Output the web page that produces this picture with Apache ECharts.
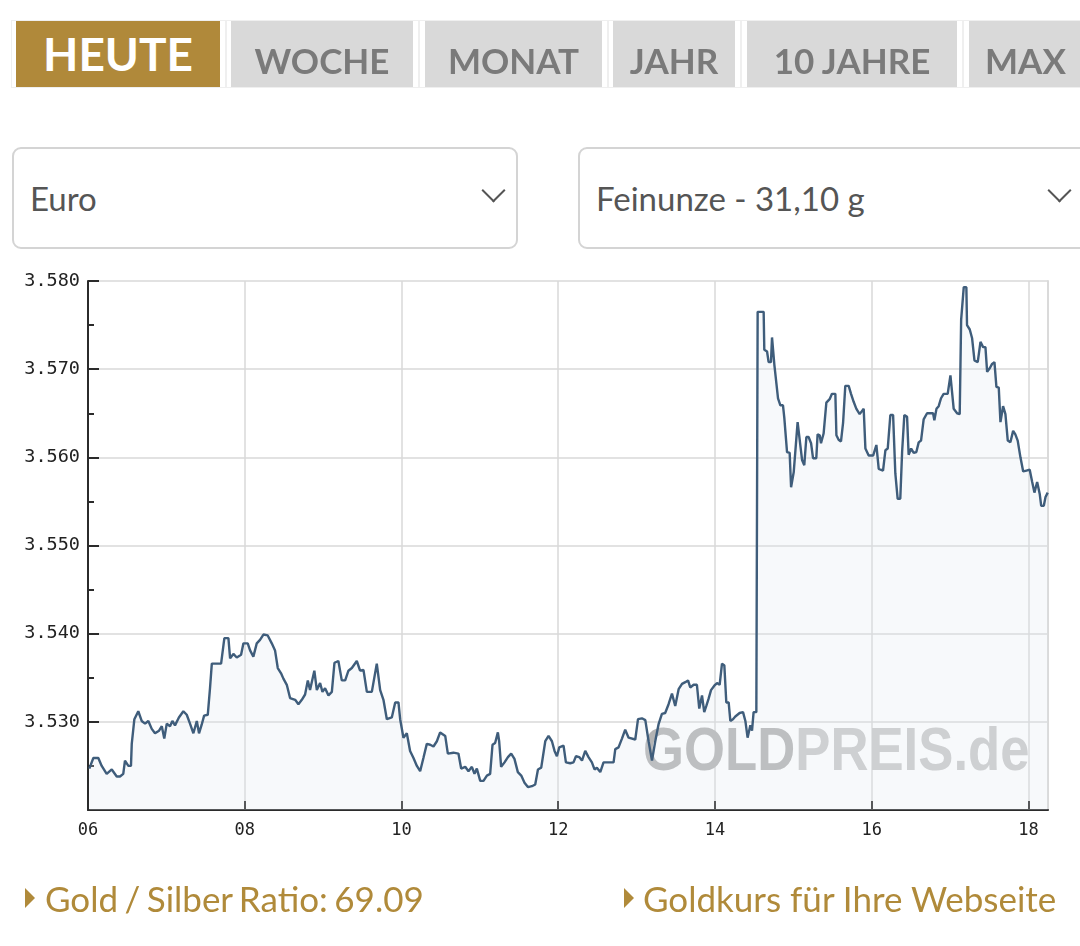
<!DOCTYPE html>
<html>
<head>
<meta charset="utf-8">
<script src="https://cdn.jsdelivr.net/npm/echarts@6/dist/echarts.min.js"></script>
<style>
html,body{margin:0;padding:0;background:#fff;width:1080px;height:946px;overflow:hidden;font-family:Lato,'Noto Sans',sans-serif;}
#chart{position:absolute;left:0;top:0;width:1080px;height:946px;}
.frame{position:absolute;top:20px;height:68px;border:1px solid #efefef;box-sizing:border-box;}
.tab{position:absolute;top:21px;height:66px;background:#d9d9d9;color:#7a7a7a;font-weight:700;font-size:35px;text-align:center;box-sizing:border-box;padding-top:12px;line-height:54px;white-space:nowrap;overflow:hidden;}
.tab.active{background:#b0893a;color:#fff;font-size:46px;padding-top:0;line-height:66px;}
.select{position:absolute;top:147px;height:102px;border:2px solid #d4d4d4;border-radius:9px;box-sizing:border-box;background:#fff;font-size:33px;color:#555;line-height:98px;padding-left:16px;white-space:nowrap;}
.chev{position:absolute;width:17px;height:17px;border-right:2px solid #555;border-bottom:2px solid #555;transform:rotate(45deg);box-sizing:border-box;}
.link{position:absolute;top:877px;font-size:35px;line-height:42px;color:#b08a3a;white-space:nowrap;}
.tri{position:absolute;top:888px;width:0;height:0;border-left:10px solid #b08a3a;border-top:10px solid transparent;border-bottom:10px solid transparent;}
</style>
</head>
<body>
<div id="chart"></div>

<div class="frame" style="left:11px;width:215px;"></div>
<div class="tab active" style="left:16px;width:204px;">HEUTE</div>
<div class="frame" style="left:226px;width:193px;"></div>
<div class="tab" style="left:231px;width:182px;">WOCHE</div>
<div class="frame" style="left:419px;width:189px;"></div>
<div class="tab" style="left:425px;width:177px;">MONAT</div>
<div class="frame" style="left:608px;width:133px;"></div>
<div class="tab" style="left:613px;width:122px;">JAHR</div>
<div class="frame" style="left:741px;width:222px;"></div>
<div class="tab" style="left:747px;width:210px;">10 JAHRE</div>
<div class="frame" style="left:963px;width:130px;"></div>
<div class="tab" style="left:969px;width:115px;text-align:left;padding-left:16px;">MAX</div>

<div class="select" style="left:12px;width:506px;">Euro</div>
<div class="chev" style="left:485px;top:182px;"></div>
<div class="select" style="left:578px;width:530px;">Feinunze - 31,10 g</div>
<div class="chev" style="left:1051px;top:182px;"></div>

<div class="tri" style="left:25px;"></div>
<div class="link" style="left:45px;word-spacing:-2.5px;">Gold / Silber Ratio: 69.09</div>
<div class="tri" style="left:624px;"></div>
<div class="link" style="left:643px;">Goldkurs für Ihre Webseite</div>

<script>
// Minutes after 06:00 for each price sample (today's intraday gold price, EUR per troy ounce, in thousands)
const minutes = [
  1.0, 4.1, 7.9, 10.5, 14.3, 18.2, 22.0, 24.5, 27.0, 28.3,
  30.9, 32.9, 33.5, 35.5, 38.5, 41.1, 43.7, 46.2, 48.8, 51.3,
  54.4, 56.5, 58.4, 60.3, 62.8, 64.6, 66.6, 69.6, 73.0, 75.6,
  78.1, 80.7, 83.3, 85.0, 87.1, 88.9, 91.7, 93.4, 94.8, 101.9,
  104.4, 107.5, 108.8, 111.3, 113.9, 117.2, 119.0, 122.3, 124.1, 126.6,
  129.2, 131.7, 134.3, 137.6, 140.7, 143.2, 145.3, 147.8, 149.6, 152.2,
  154.7, 158.6, 161.1, 163.7, 166.2, 168.3, 170.0, 173.3, 175.2, 177.7,
  179.5, 181.5, 184.1, 186.7, 188.7, 191.7, 194.3, 196.9, 199.4, 202.0,
  205.8, 208.3, 210.9, 213.5, 217.3, 221.1, 223.7, 226.2, 228.8, 232.6,
  235.2, 237.7, 239.0, 241.5, 244.1, 246.6, 249.2, 251.8, 254.3, 256.8,
  259.4, 262.0, 264.5, 267.1, 269.6, 273.5, 275.5, 279.8, 283.6, 285.7,
  288.8, 291.3, 293.9, 295.9, 297.7, 300.3, 302.8, 305.4, 307.9, 309.7,
  311.7, 313.8, 314.8, 316.3, 318.9, 321.5, 324.0, 326.5, 329.1, 331.7,
  334.2, 336.8, 339.9, 342.4, 344.5, 347.0, 350.1, 352.6, 355.2, 357.2,
  359.0, 360.8, 364.1, 365.9, 369.2, 371.7, 373.6, 376.1, 378.2, 380.7,
  383.2, 385.8, 387.8, 389.6, 392.2, 394.7, 402.4, 403.7, 406.2, 408.8,
  411.3, 413.9, 419.0, 421.1, 424.1, 426.7, 429.2, 431.8, 434.3, 436.8,
  439.4, 441.9, 444.5, 447.1, 449.6, 452.2, 454.8, 457.3, 459.4, 461.1,
  463.7, 466.2, 468.0, 470.1, 471.8, 473.4, 475.1, 477.0, 479.5, 481.6,
  483.6, 485.4, 487.2, 488.7, 490.5, 491.8, 493.8, 495.6, 498.9, 501.5,
  503.3, 505.0, 507.1, 508.4, 509.6, 511.7, 512.7, 517.3, 517.8, 519.9,
  521.1, 522.9, 523.7, 525.5, 527.0, 528.3, 530.1, 532.1, 533.1, 535.2,
  537.2, 538.3, 540.3, 541.5, 543.3, 544.8, 546.7, 548.4, 550.0, 551.7,
  553.6, 555.1, 557.6, 558.6, 560.2, 561.2, 563.2, 565.3, 567.8, 569.6,
  572.2, 573.0, 574.7, 576.5, 578.1, 579.8, 582.4, 584.2, 586.2, 588.3,
  590.8, 593.9, 595.2, 597.7, 601.1, 603.6, 605.4, 608.7, 610.5, 612.3,
  614.3, 616.4, 618.1, 619.9, 621.9, 623.3, 625.0, 627.1, 628.3, 630.2,
  632.2, 634.2, 636.0, 637.8, 639.8, 642.4, 647.0, 648.0, 649.6, 651.3,
  653.1, 655.1, 658.2, 660.3, 661.6, 662.8, 665.4, 667.4, 668.5, 670.5,
  672.5, 673.0, 675.1, 676.9, 678.7, 681.2, 683.3, 685.3, 687.1, 688.4,
  690.4, 692.2, 694.0, 695.5, 697.3, 698.6, 700.6, 702.4, 704.2, 706.2,
  708.3, 710.0, 711.8, 713.9, 716.0, 718.5, 721.0, 722.9, 724.6, 726.7,
  728.7, 729.8, 731.8, 733.1, 734.8
];
const prices = [
  3.5247, 3.5259, 3.5259, 3.5250, 3.5241, 3.5246, 3.5238, 3.5238, 3.5241, 3.5256,
  3.5250, 3.5250, 3.5275, 3.5303, 3.5312, 3.5301, 3.5298, 3.5301, 3.5292, 3.5287,
  3.5290, 3.5295, 3.5281, 3.5298, 3.5295, 3.5301, 3.5296, 3.5305, 3.5312, 3.5308,
  3.5298, 3.5287, 3.5301, 3.5287, 3.5297, 3.5307, 3.5308, 3.5338, 3.5366, 3.5366,
  3.5395, 3.5395, 3.5372, 3.5377, 3.5373, 3.5376, 3.5389, 3.5389, 3.5381, 3.5374,
  3.5389, 3.5393, 3.5399, 3.5398, 3.5389, 3.5381, 3.5361, 3.5355, 3.5349, 3.5342,
  3.5327, 3.5325, 3.5320, 3.5325, 3.5331, 3.5347, 3.5336, 3.5358, 3.5336, 3.5344,
  3.5334, 3.5338, 3.5330, 3.5334, 3.5367, 3.5369, 3.5347, 3.5347, 3.5358, 3.5361,
  3.5369, 3.5358, 3.5359, 3.5334, 3.5334, 3.5366, 3.5336, 3.5325, 3.5303, 3.5305,
  3.5322, 3.5322, 3.5303, 3.5282, 3.5287, 3.5267, 3.5259, 3.5250, 3.5244, 3.5259,
  3.5275, 3.5274, 3.5272, 3.5278, 3.5288, 3.5284, 3.5264, 3.5265, 3.5264, 3.5247,
  3.5249, 3.5244, 3.5249, 3.5241, 3.5247, 3.5233, 3.5233, 3.5239, 3.5241, 3.5274,
  3.5276, 3.5288, 3.5278, 3.5249, 3.5254, 3.5260, 3.5264, 3.5258, 3.5243, 3.5239,
  3.5231, 3.5226, 3.5227, 3.5229, 3.5246, 3.5248, 3.5278, 3.5284, 3.5278, 3.5267,
  3.5261, 3.5271, 3.5273, 3.5254, 3.5253, 3.5254, 3.5261, 3.5260, 3.5256, 3.5267,
  3.5260, 3.5254, 3.5246, 3.5248, 3.5243, 3.5254, 3.5254, 3.5269, 3.5271, 3.5281,
  3.5291, 3.5282, 3.5280, 3.5303, 3.5304, 3.5302, 3.5278, 3.5256, 3.5278, 3.5297,
  3.5309, 3.5310, 3.5320, 3.5332, 3.5318, 3.5337, 3.5343, 3.5345, 3.5347, 3.5339,
  3.5342, 3.5342, 3.5315, 3.5330, 3.5311, 3.5318, 3.5326, 3.5336, 3.5341, 3.5344,
  3.5342, 3.5366, 3.5364, 3.5322, 3.5322, 3.5301, 3.5303, 3.5306, 3.5310, 3.5311,
  3.5301, 3.5282, 3.5296, 3.5290, 3.5311, 3.5311, 3.5765, 3.5765, 3.5722, 3.5720,
  3.5708, 3.5708, 3.5736, 3.5705, 3.5703, 3.5667, 3.5659, 3.5659, 3.5645, 3.5606,
  3.5605, 3.5566, 3.5583, 3.5583, 3.5640, 3.5639, 3.5597, 3.5591, 3.5623, 3.5623,
  3.5616, 3.5599, 3.5599, 3.5626, 3.5625, 3.5616, 3.5627, 3.5662, 3.5666, 3.5672,
  3.5672, 3.5625, 3.5620, 3.5618, 3.5639, 3.5681, 3.5681, 3.5672, 3.5663, 3.5655,
  3.5649, 3.5655, 3.5610, 3.5602, 3.5602, 3.5614, 3.5587, 3.5585, 3.5608, 3.5610,
  3.5648, 3.5648, 3.5582, 3.5553, 3.5553, 3.5606, 3.5648, 3.5646, 3.5603, 3.5610,
  3.5605, 3.5606, 3.5617, 3.5619, 3.5643, 3.5650, 3.5650, 3.5642, 3.5655, 3.5658,
  3.5667, 3.5672, 3.5672, 3.5693, 3.5693, 3.5655, 3.5650, 3.5649, 3.5756, 3.5793,
  3.5793, 3.5750, 3.5745, 3.5735, 3.5710, 3.5708, 3.5731, 3.5725, 3.5725, 3.5697,
  3.5701, 3.5706, 3.5708, 3.5680, 3.5679, 3.5640, 3.5658, 3.5649, 3.5619, 3.5617,
  3.5630, 3.5626, 3.5619, 3.5600, 3.5584, 3.5585, 3.5586, 3.5572, 3.5560, 3.5572,
  3.5558, 3.5545, 3.5545, 3.5555, 3.5560
];
const hourTicks = [6, 8, 10, 12, 14, 16, 18];
const hourTickLabels = ['06', '08', '10', '12', '14', '16', '18'];
const priceTicks = [3.53, 3.54, 3.55, 3.56, 3.57, 3.58];

const seriesData = minutes.map((m, i) => [6 + m / 60, prices[i]]);

const chart = echarts.init(document.getElementById('chart'), null, { renderer: 'canvas' });
const labelFont = 'DejaVu Sans Mono';
chart.setOption({
  animation: false,
  grid: { left: 88, right: 32, top: 281, bottom: 136 },
  xAxis: {
    type: 'value', min: 6, max: 18.25, interval: 2,
    axisLine: { show: true, onZero: false, lineStyle: { color: '#2b2b2b', width: 2 } },
    axisTick: { show: true, inside: true, length: 9, customValues: hourTicks.slice(1),
      lineStyle: { color: '#2b2b2b', width: 2 } },
    axisLabel: { show: true, customValues: hourTicks, margin: 12, color: '#222',
      fontFamily: labelFont, fontSize: 17,
      formatter: v => { const i = hourTicks.indexOf(v); return i >= 0 ? hourTickLabels[i] : ''; } },
    splitLine: { show: true, lineStyle: { color: '#d9d9d9', width: 1.5 } }
  },
  yAxis: [{
    type: 'value', min: 3.52, max: 3.58, interval: 0.01,
    axisLine: { show: true, onZero: false, lineStyle: { color: '#2b2b2b', width: 2 } },
    axisTick: { show: true, inside: true, length: 11, lineStyle: { color: '#2b2b2b', width: 2 } },
    minorTick: { show: true, splitNumber: 2, length: 6, lineStyle: { color: '#2b2b2b', width: 2 } },
    axisLabel: { show: true, showMinLabel: false, margin: 8, color: '#222',
      fontFamily: labelFont, fontSize: 18.5,
      formatter: v => { const t = priceTicks.find(p => Math.abs(p - v) < 1e-6); return t ? t.toFixed(3) : ''; } },
    splitLine: { show: true, lineStyle: { color: '#d9d9d9', width: 1.5 } }
  }, {
    type: 'value', position: 'right', min: 3.52, max: 3.58, interval: 0.01,
    axisLine: { show: true, onZero: false, lineStyle: { color: '#dadada', width: 2 } },
    axisTick: { show: false }, axisLabel: { show: false }, splitLine: { show: false }
  }],
  series: [{
    type: 'line',
    data: seriesData,
    showSymbol: false,
    symbol: 'none',
    z: 3,
    lineStyle: { color: '#3f5d7b', width: 2.4 },
    areaStyle: { color: 'rgba(222,229,238,0.35)', origin: 'start' }
  }],
  graphic: [{
    type: 'text',
    z: 1,
    x: 643, y: 753,
    scaleX: 0.85,
    style: {
      text: '{a|GOLD}{b|PREIS.de}',
      verticalAlign: 'middle',
      align: 'left',
      rich: {
        a: { fontFamily: 'Liberation Sans', fontWeight: 'bold', fontSize: 62, fill: '#b3b3b3', color: '#b3b3b3' },
        b: { fontFamily: 'Liberation Sans', fontWeight: 'bold', fontSize: 62, fill: '#c9c9c9', color: '#c9c9c9' }
      }
    }
  }]
});
</script>
</body>
</html>
